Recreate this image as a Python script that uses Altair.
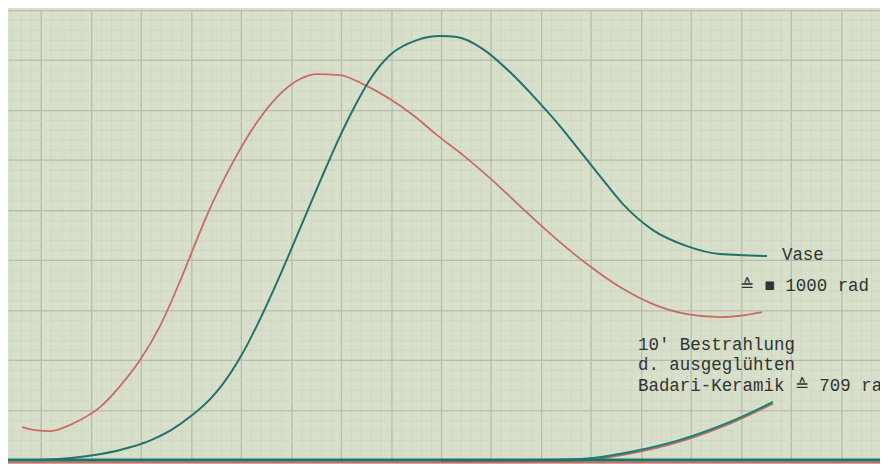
import altair as alt
import pandas as pd

# Units: millimetres of the graph paper (major grid every 5 mm)
red_x = [-1.9, -0.6, 0.9, 2.4, 3.9, 5.9, 7.9, 9.9, 11.9, 13.9, 15.4, 16.6, 17.9, 19.2, 21.4, 23.6, 25.9, 27.6,
         29.9, 32.2, 34.9, 37.2, 39.6, 42.2, 44.9, 47.9, 51.2, 54.6, 57.9, 61.2, 64.6, 67.9, 70.4, 72.1]
red_y = [3.3, 3.0, 2.9, 3.3, 4.0, 5.3, 7.4, 10.0, 13.4, 17.9, 21.6, 24.5, 27.3, 29.8, 33.5, 36.3, 38.1, 38.6,
         38.5, 37.6, 36.1, 34.5, 32.5, 30.5, 28.2, 25.4, 22.4, 19.6, 17.3, 15.6, 14.6, 14.3, 14.5, 14.8]

teal_x = [-0.1, 3.0, 6.0, 9.0, 11.0, 13.0, 15.0, 17.0, 18.1, 20.0, 22.0, 24.0, 26.0, 28.0, 30.0, 31.5,
          33.0, 34.9, 37.6, 39.9, 41.6, 44.2, 46.9, 49.6, 51.9, 53.9, 55.9, 58.2, 61.2, 64.6, 67.9, 72.6]
teal_y = [0.0, 0.2, 0.6, 1.3, 2.0, 3.0, 4.4, 6.2, 7.5, 10.4, 14.3, 18.7, 23.4, 28.1, 32.6, 35.6,
          38.2, 40.5, 42.0, 42.4, 42.3, 41.1, 38.8, 36.0, 33.4, 30.9, 28.4, 25.6, 23.0, 21.4, 20.6, 20.4]

bg_x = [40.0, 48.9, 53.9, 58.9, 63.9, 68.9, 73.2]
bg_y = [0.0, 0.0, 0.1, 0.8, 2.0, 3.8, 5.8]

base_x = [-3.4, 84.0]
base_y = [0.0, 0.0]

labels = ["Vase", "≙ ■ 1000 rad", "10' Bestrahlung", "d. ausgeglühten", "Badari-Keramik ≙ 709 rad"]
label_x = [74.1, 69.9, 59.7, 59.7, 59.7]
label_y = [20.0, 16.9, 11.0, 9.0, 6.9]

PAPER = "#d8e0cc"
RED = "#c96b63"
TEAL = "#23716b"
TEAL_LOW = "#1b8479"
TEXT = "#2f3431"
MAJOR = "#b2bdaa"
MINOR = "#ccd5c1"

red_df = pd.DataFrame({"x": red_x, "y": red_y})
teal_df = pd.DataFrame({"x": teal_x, "y": teal_y})
bg_df = pd.DataFrame({"x": bg_x, "y": bg_y})
base_df = pd.DataFrame({"x": base_x, "y": base_y})
lab_df = pd.DataFrame({"t": labels, "x": label_x, "y": label_y})

def grid_axis(vals):
    return alt.Axis(values=vals, grid=True, labels=False, ticks=False, domain=False, title=None,
                    gridColor={"condition": {"test": "datum.value % 5 === 0", "value": MAJOR}, "value": MINOR},
                    gridWidth={"condition": {"test": "datum.value % 5 === 0", "value": 1.3}, "value": 0.7})

xgrid = grid_axis(list(range(-3, 84)))
ygrid = grid_axis(list(range(0, 46)))

xs = alt.Scale(domain=[-3.307, 83.91], nice=False, zero=False)
ys = alt.Scale(domain=[-0.186, 45.0], nice=False, zero=False)

def enc(ch):
    return ch.encode(x=alt.X("x:Q", scale=xs, axis=xgrid), y=alt.Y("y:Q", scale=ys, axis=ygrid))

red_line = enc(alt.Chart(red_df).mark_line(color=RED, strokeWidth=1.8, interpolate="monotone"))
teal_line = enc(alt.Chart(teal_df).mark_line(color=TEAL, strokeWidth=2, interpolate="monotone"))
bg_red = enc(alt.Chart(bg_df).mark_line(color=RED, strokeWidth=2, interpolate="monotone", yOffset=1.5))
bg_teal = enc(alt.Chart(bg_df).mark_line(color=TEAL_LOW, strokeWidth=2.2, interpolate="monotone"))
base_red = enc(alt.Chart(base_df).mark_line(color=RED, strokeWidth=2, yOffset=2.5))
base_teal = enc(alt.Chart(base_df).mark_line(color=TEAL, strokeWidth=3))
texts = enc(alt.Chart(lab_df).mark_text(align="left", baseline="alphabetic", font="Liberation Mono",
                                         fontSize=17.6, color=TEXT)).encode(text="t:N")

chart = alt.layer(red_line, teal_line, bg_red, bg_teal, base_red, base_teal, texts).properties(
    width=880, height=456,
    autosize=alt.AutoSizeParams(type="none"),
    padding=0,
    background=PAPER,
).configure_view(stroke=None, fill=PAPER)

chart.save("out.html", embed_options={"renderer": "svg", "actions": False})
